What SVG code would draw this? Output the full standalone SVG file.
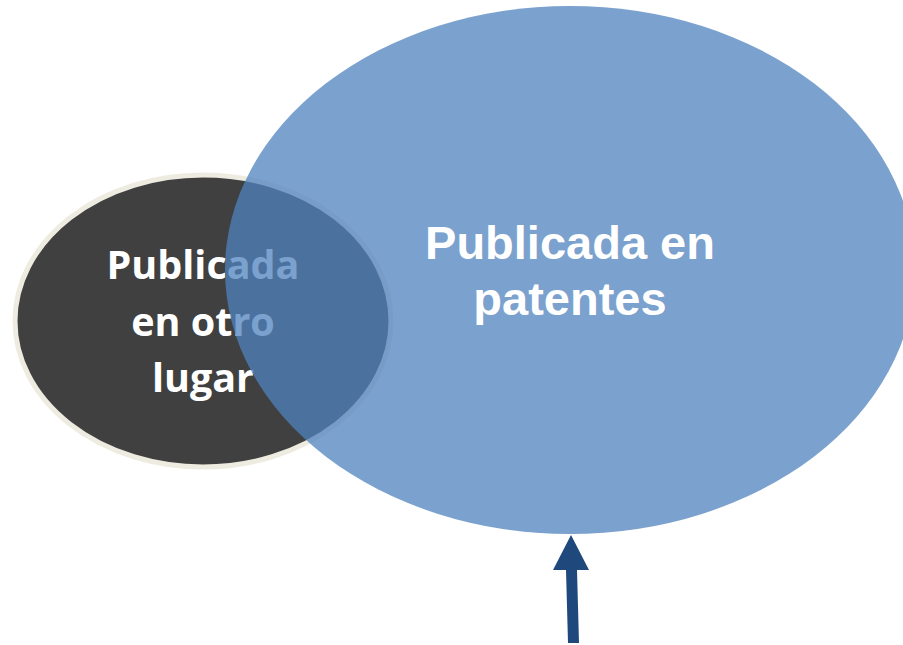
<svg xmlns="http://www.w3.org/2000/svg" width="903" height="645" viewBox="0 0 903 645">
<style>
.lbl{fill:#ffffff;font-weight:bold;text-anchor:middle}
.left{font-family:"Open Sans","DejaVu Sans",sans-serif;font-size:39.5px}
.right{font-family:"Liberation Sans",Arial,sans-serif;font-size:47px}
</style>
<rect width="903" height="645" fill="#ffffff"/>
<g id="node-otro">
<ellipse cx="203" cy="321" rx="188" ry="146" fill="#404040" stroke="#eeece1" stroke-width="5"/>
<text class="lbl left" x="203" y="279">Publicada</text>
<text class="lbl left" x="203" y="336">en otro</text>
<text class="lbl left" x="203" y="392">lugar</text>
</g>
<g id="node-patentes">
<ellipse cx="570" cy="270" rx="345" ry="264" fill="#4f81bd" fill-opacity="0.75"/>
<text class="lbl right" x="570" y="259">Publicada en</text>
<text class="lbl right" x="570" y="315">patentes</text>
</g>
<g id="connectors">
<polygon points="568,643 579,643 577,570 589,570 571,535 553,570 566,570" fill="#1f497d"/>
</g>
</svg>
